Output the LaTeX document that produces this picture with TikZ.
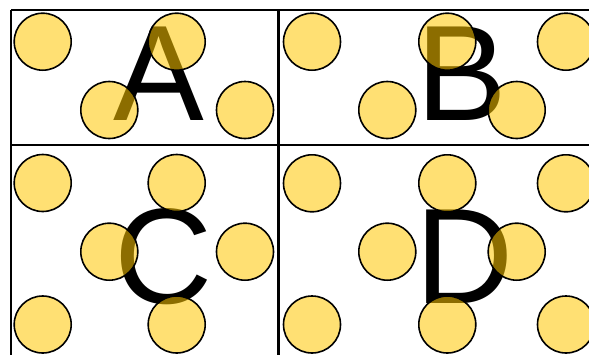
\documentclass[tikz,border=0pt]{standalone}
\usepackage{fontspec}
\setmainfont{Liberation Sans}
\definecolor{dotfill}{RGB}{255,200,0}
\tikzset{
  gridline/.style={line width=2.6pt, black},
  dot/.style={draw=black, line width=1.6pt, fill=dotfill, fill opacity=0.55},
  bigletter/.style={inner sep=0pt, outer sep=0pt, anchor=base west, font=\fontsize{136}{136}\selectfont}
}
\begin{document}
\begin{tikzpicture}[x=1pt,y=-1pt]
\useasboundingbox (0,0) rectangle (589,354);
\fill[white] (0,0) rectangle (589,354);
\clip (0,0) rectangle (589,354);
% grid
\draw[gridline] (11,10) -- (600,10);
\draw[gridline] (11,145) -- (600,145);
\draw[gridline] (11,10) -- (11,360);
\draw[gridline] (278.5,10) -- (278.5,360);
% letters
\node[bigletter] (lA) at (113.3,120) {A};
\node[bigletter] (lB) at (416.1,120) {B};
\node[bigletter] (lC) at (114.2,303.5) {C};
\node[bigletter] (lD) at (415.3,303.5) {D};
% circles A
\foreach \p in {(42.7,41.7),(176.7,41.7),(109.3,110),(245,110)}
  \draw[dot] \p circle (28.5);
% circles B
\foreach \p in {(312,41.7),(447.3,41.7),(566,41.7),(387.3,110),(516.7,110)}
  \draw[dot] \p circle (28.5);
% circles C
\foreach \p in {(42.7,183),(176.7,183),(109.3,251.7),(245,251.7),(42.7,324.5),(176.7,324.5)}
  \draw[dot] \p circle (28.5);
% circles D
\foreach \p in {(312,183.3),(447.3,183.3),(566,183.3),(387.3,251.7),(516.7,251.7),(312,324.5),(447.3,324.5),(566,324.5)}
  \draw[dot] \p circle (28.5);
\end{tikzpicture}
\end{document}
